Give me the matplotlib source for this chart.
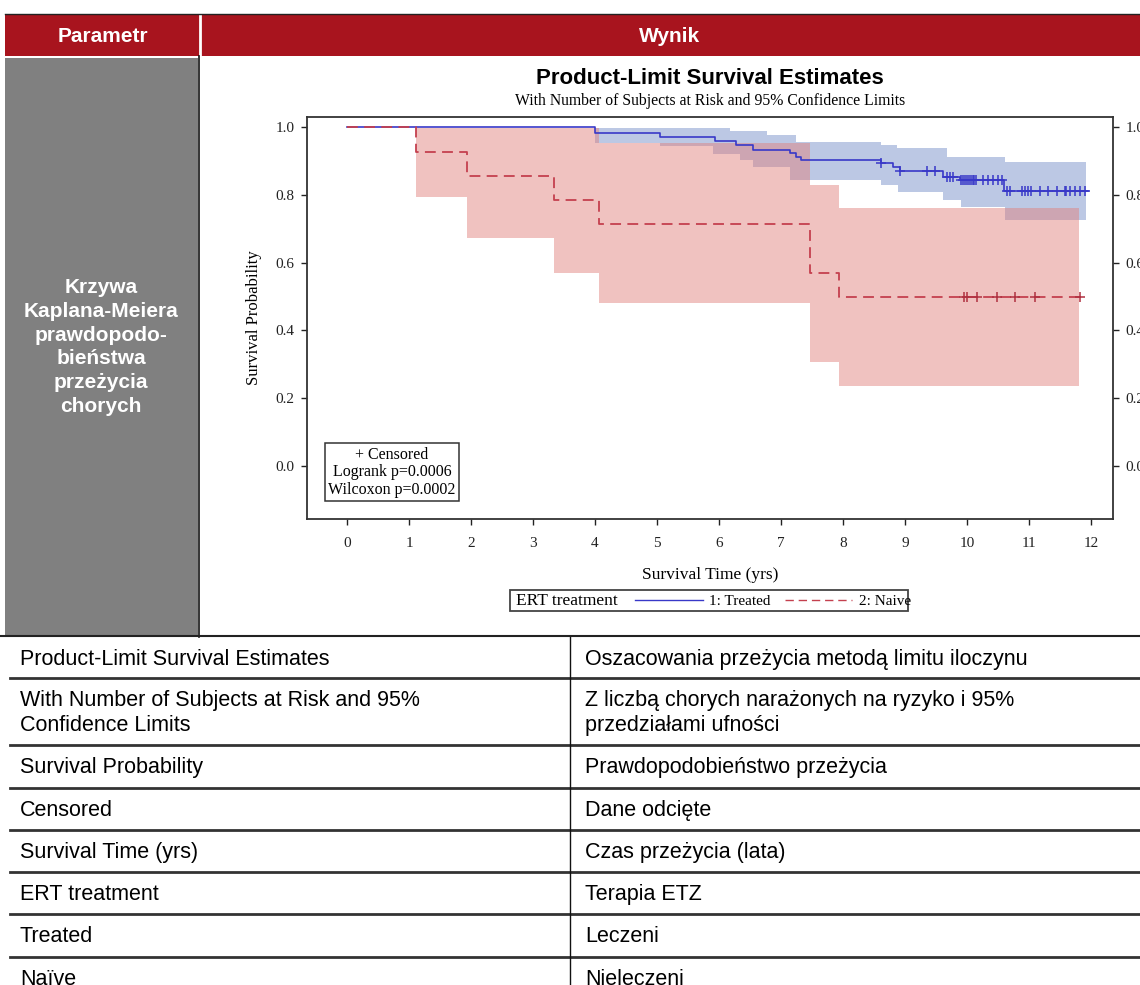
import matplotlib
matplotlib.use('Agg')
import matplotlib.pyplot as plt
import numpy as np
from matplotlib.patches import Rectangle
from matplotlib.lines import Line2D

# ---- data ----
naive_times = [0.0, 1.11, 1.93, 3.34, 4.07, 7.46, 7.93]
naive_surv = [1.0, 0.927, 0.855, 0.785, 0.713, 0.570, 0.500]
naive_end = 11.84
naive_censor = [9.95, 10.0, 10.16, 10.48, 10.77, 11.10, 11.82]
naive_ci_t = [1.11, 1.93, 3.34, 4.07, 7.46, 7.93]
naive_lower = [0.794, 0.672, 0.568, 0.480, 0.308, 0.236]
naive_upper = [0.998, 0.998, 0.998, 0.953, 0.829, 0.760]
naive_ci_end = 11.81

treated_times = [0.0, 4.0, 5.05, 5.94, 6.28, 6.55, 7.15, 7.25, 7.33,
                 8.62, 8.81, 8.92, 9.62, 9.89, 10.59]
treated_surv = [1.0, 0.983, 0.971, 0.959, 0.947, 0.932, 0.922, 0.912, 0.903,
                0.893, 0.883, 0.871, 0.853, 0.844, 0.812]
treated_end = 11.95
treated_censor = [8.62, 8.92, 9.35, 9.48, 9.67, 9.72, 9.78, 9.91, 9.94, 9.97,
                  10.0, 10.03, 10.06, 10.09, 10.12, 10.15, 10.26, 10.34, 10.42,
                  10.5, 10.56, 10.64, 10.69, 10.88, 10.94, 10.99, 11.04, 11.18,
                  11.31, 11.45, 11.58, 11.6, 11.66, 11.74, 11.82, 11.9]
treated_lo_t = [4.0, 5.05, 5.9, 6.34, 6.55, 7.15, 8.62, 8.88, 9.62, 9.9, 10.62]
treated_lo = [0.952, 0.945, 0.920, 0.903, 0.883, 0.844, 0.829, 0.809, 0.785,
              0.765, 0.726]
treated_hi_t = [4.0, 6.18, 6.77, 7.25, 8.62, 8.87, 9.67, 10.61]
treated_hi = [0.997, 0.989, 0.976, 0.957, 0.947, 0.937, 0.912, 0.898]
treated_ci_end = 11.92

x_ticks = list(range(0, 13))
y_ticks = [0.0, 0.2, 0.4, 0.6, 0.8, 1.0]

table_left = ['Product-Limit Survival Estimates',
              'With Number of Subjects at Risk and 95%\nConfidence Limits',
              'Survival Probability', 'Censored', 'Survival Time (yrs)',
              'ERT treatment', 'Treated', 'Naïve']
table_right = ['Oszacowania przeżycia metodą limitu iloczynu',
               'Z liczbą chorych narażonych na ryzyko i 95%\nprzedziałami ufności',
               'Prawdopodobieństwo przeżycia', 'Dane odcięte',
               'Czas przeżycia (lata)', 'Terapia ETZ', 'Leczeni', 'Nieleczeni']
row_lines = [637, 678, 745, 788, 830, 872, 914, 957]

W, H = 1140, 985
RED = '#A8141E'
SERIF = 'Liberation Serif'
SANS = 'Liberation Sans'
BLUE = '#3838C8'
NRED = '#C4404E'


def fx(px):
    return px / W


def fy(py):
    return 1 - py / H


def rect(x0, y0, x1, y1, **kw):
    fig.add_artist(Rectangle((fx(x0), fy(y1)), (x1 - x0) / W, (y1 - y0) / H,
                             transform=fig.transFigure, **kw))


def hline(x0, x1, y, **kw):
    fig.add_artist(Line2D([fx(x0), fx(x1)], [fy(y), fy(y)],
                          transform=fig.transFigure, **kw))


def vline(x, y0, y1, **kw):
    fig.add_artist(Line2D([fx(x), fx(x)], [fy(y0), fy(y1)],
                          transform=fig.transFigure, **kw))


def step_value(times, vals, t):
    i = np.searchsorted(times, t, side='right') - 1
    return np.asarray(vals)[i]


fig = plt.figure(figsize=(W / 100, H / 100), dpi=100)
fig.patch.set_facecolor('white')

# ---- header and left cell ----
rect(5, 14, 1140, 56, facecolor=RED, edgecolor='none')
vline(200, 14, 56, color='white', lw=2)
hline(5, 1140, 14, color='#222222', lw=1)
fig.text(fx(103), fy(36), 'Parametr', color='white', fontsize=15,
         fontweight='bold', family=SANS, ha='center', va='center')
fig.text(fx(670), fy(36), 'Wynik', color='white', fontsize=15,
         fontweight='bold', family=SANS, ha='center', va='center')
rect(5, 58, 198, 636, facecolor='#808080', edgecolor='none')
vline(199, 56, 637, color='#111111', lw=1.2)
fig.text(fx(101), fy(347),
         'Krzywa\nKaplana-Meiera\nprawdopodo-\nbieństwa\nprzeżycia\nchorych',
         color='white', fontsize=15, fontweight='bold', family=SANS,
         ha='center', va='center', linespacing=1.32)

# ---- chart ----
ax = fig.add_axes([fx(307), fy(519), (1113 - 307) / W, (519 - 117) / H])
ax.set_xlim(-0.645, 12.355)
ax.set_ylim(-0.156, 1.0295)

nt = list(naive_ci_t) + [naive_ci_end]
tt_lo = list(treated_lo_t) + [treated_ci_end]
tt_hi = list(treated_hi_t) + [treated_ci_end]
grid_t = np.unique(np.concatenate([tt_lo, tt_hi]))
lo_vals = [step_value(tt_lo, treated_lo + [treated_lo[-1]], t) for t in grid_t]
hi_vals = [step_value(tt_hi, treated_hi + [treated_hi[-1]], t) for t in grid_t]
ax.fill_between(grid_t, lo_vals, hi_vals, step='post', color='#BCC8E4',
                lw=0, zorder=1)
ax.fill_between(nt, naive_lower + [naive_lower[-1]],
                naive_upper + [naive_upper[-1]], step='post',
                color=(224 / 255, 128 / 255, 124 / 255), alpha=0.48, lw=0,
                zorder=2)

ax.step(treated_times + [treated_end], treated_surv + [treated_surv[-1]],
        where='post', color=BLUE, lw=1.2, zorder=4)
ax.step(naive_times + [naive_end], naive_surv + [naive_surv[-1]],
        where='post', color=NRED, lw=1.3, dashes=(6, 3.5), zorder=4)
ax.plot(treated_censor,
        [step_value(treated_times, treated_surv, c) for c in treated_censor],
        ls='none', marker='+', ms=7, mew=1.1, color=BLUE, zorder=5)
ax.plot(naive_censor,
        [step_value(naive_times, naive_surv, c) for c in naive_censor],
        ls='none', marker='+', ms=7, mew=1.1, color='#B03040', zorder=5)

ax.set_xticks(x_ticks)
ax.set_yticks(y_ticks)
ax.set_yticklabels([f'{v:.1f}' for v in y_ticks])
ax.tick_params(direction='out', length=4, width=1, colors='#222222',
               labelsize=11, right=True, labelright=True)
ax.tick_params(axis='x', pad=9)
ax.tick_params(axis='y', pad=5)
for lab in ax.get_xticklabels() + ax.get_yticklabels():
    lab.set_family(SERIF)
for sp in ax.spines.values():
    sp.set_color('#333333')
    sp.set_linewidth(1.3)
ax.set_ylabel('Survival Probability', family=SERIF, fontsize=12, labelpad=10)
ax.set_xlabel('Survival Time (yrs)', family=SERIF, fontsize=12.5, labelpad=12)

ax.text(0.1055, 0.116, '+ Censored\nLogrank p=0.0006\nWilcoxon p=0.0002',
        transform=ax.transAxes, ha='center', va='center', family=SERIF,
        fontsize=11.5, linespacing=1.12, multialignment='center',
        bbox=dict(boxstyle='square,pad=0.22', facecolor='white',
                  edgecolor='#333333', lw=1.1), zorder=6)

fig.text(fx(710), fy(78), 'Product-Limit Survival Estimates', family=SANS,
         fontsize=16, fontweight='bold', ha='center', va='center')
fig.text(fx(710), fy(101),
         'With Number of Subjects at Risk and 95% Confidence Limits',
         family=SERIF, fontsize=11.3, ha='center', va='center')

# legend under the chart
rect(510, 590, 908, 611, facecolor='white', edgecolor='#444444', lw=1.3)
fig.text(fx(516), fy(601), 'ERT treatment', family=SERIF, fontsize=12.5,
         ha='left', va='center')
handles = [Line2D([], [], color=BLUE, lw=1),
           Line2D([], [], color=NRED, lw=1, dashes=(6, 3.5))]
fig.legend(handles, ['1: Treated', '2: Naive'], ncol=2, frameon=False,
           loc='center', bbox_to_anchor=(fx(773), fy(601)),
           prop={'family': SERIF, 'size': 11}, handlelength=4.4,
           handletextpad=0.45, columnspacing=0.9)

# ---- translation table ----
hline(0, 1140, 636, color='#222222', lw=1.5)
for i, y in enumerate(row_lines):
    if i > 0:
        hline(10, 1140, y, color='#333333', lw=2)
vline(570, 637, 985, color='#111111', lw=1)
row_bounds = row_lines + [1010]
for i, (left, right) in enumerate(zip(table_left, table_right)):
    y0 = row_bounds[i]
    yt = y0 + 12
    fig.text(fx(20), fy(yt), left, family=SANS, fontsize=15.5, ha='left',
             va='top', linespacing=1.25)
    fig.text(fx(585), fy(yt), right, family=SANS, fontsize=15.5, ha='left',
             va='top', linespacing=1.25)

fig.savefig('out.png', dpi=100, facecolor='white')
